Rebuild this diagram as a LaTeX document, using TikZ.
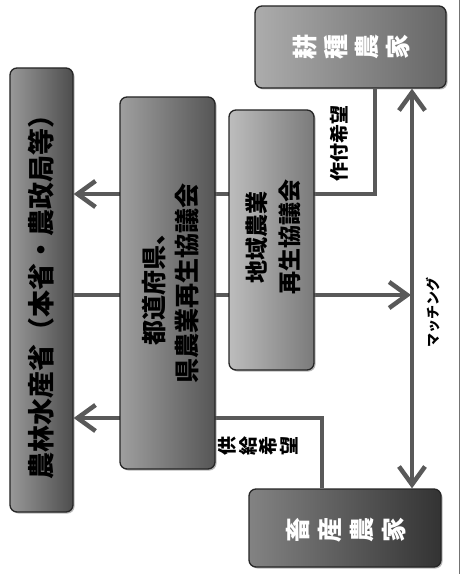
\documentclass[tikz,border=0pt]{standalone}
\usepackage{fontspec}
\newfontfamily\jp{Noto Sans CJK JP}
\usetikzlibrary{arrows.meta,shadows,backgrounds}
\definecolor{cL}{gray}{0.38}
\definecolor{cM}{gray}{0.42}
\definecolor{cR}{gray}{0.60}
\definecolor{cK}{gray}{0.50}
\definecolor{cC}{gray}{0.25}
\definecolor{cLine}{gray}{0.35}
\begin{document}
\begin{tikzpicture}[x=1bp,y=-1bp,
  box/.style={rectangle, rounded corners=7bp, draw=black!85, line width=1.3bp,
    drop shadow={shadow xshift=1.5bp,shadow yshift=-1.5bp,fill=black!55}, inner sep=0pt},
  boxshade/.style={left color=#1!65!white, middle color=#1, right color=#1!80!black},
  lbl/.style={rotate=90, inner sep=0pt, align=center},
  conn/.style={draw=cLine, line width=4bp},
  barb/.tip={Straight Barb[length=18bp,width=26bp,line width=4.5bp]},
  tip/.style={-barb},
  dtip/.style={barb-barb},
]
\useasboundingbox (0,0) rectangle (462,574);
% boxes
\node[box, boxshade=cL, minimum width=63bp, minimum height=444bp] (L) at (41.5,290) {};
\node[box, boxshade=cM, minimum width=95bp, minimum height=372bp] (M) at (167.5,283) {};
\node[box, boxshade=cR, minimum width=85bp, minimum height=260bp] (R) at (271.5,240) {};
\node[box, boxshade=cK, minimum width=191bp, minimum height=82bp] (K) at (350.5,47) {};
\node[box, boxshade=cC, minimum width=192bp, minimum height=78bp] (C) at (345,528) {};
% texts in boxes
\node[lbl, text=black, font=\jp\bfseries\fontsize{27bp}{32bp}\selectfont] (Lt) at (L.center) {農林水産省（本省・農政局等）};
\node[lbl, text=black, font=\jp\bfseries\fontsize{25bp}{33bp}\selectfont] (Mt) at (171,283) {都道府県、\\県農業再生協議会};
\node[lbl, text=black, font=\jp\bfseries\fontsize{23bp}{33bp}\selectfont] (Rt) at (273,237) {地域農業\\再生協議会};
\node[lbl, text=white, font=\jp\bfseries\fontsize{25bp}{31bp}\selectfont] (Kt) at (352,47) {耕\\種\\農\\家};
\node[lbl, text=white, font=\jp\bfseries\fontsize{25bp}{32bp}\selectfont] (Ct) at (346,530) {畜\\産\\農\\家};
% connector labels
\node[lbl, text=black, font=\jp\bfseries\fontsize{19bp}{21bp}\selectfont] (t1) at (339,143) {作付希望};
\node[lbl, text=black, font=\jp\bfseries\fontsize{19bp}{20.5bp}\selectfont] (t2) at (258,446) {供\\給\\希\\望};
\node[lbl, text=black, font=\jp\bfseries\fontsize{14bp}{16bp}\selectfont] (t3) at (433,312) {マッチング};
% helper coordinates
\coordinate (p1) at (375,194);
\coordinate (p2) at (322,418);
\coordinate (p3) at (411,295);
\coordinate (vx) at (412,0);
\begin{scope}[on background layer]
  \fill[white] (0,0) rectangle (462,574);
  \draw[black!55, line width=1bp] (459.5,0) -- (459.5,574);
  \draw[conn,tip] (K.south -| p1) |- (L.east |- p1);
  \draw[conn,tip] (C.north -| p2) |- (L.east |- p2);
  \draw[conn,tip] (L.east |- p3) -- (p3);
  \draw[conn,dtip] (K.south -| vx) -- (C.north -| vx);
\end{scope}
\end{tikzpicture}
\end{document}
